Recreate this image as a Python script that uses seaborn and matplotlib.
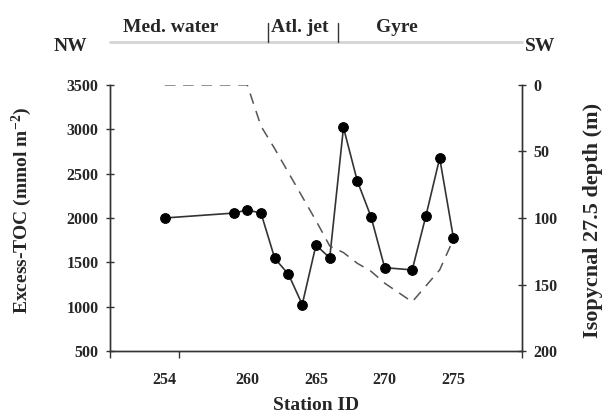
import numpy as np
import matplotlib
matplotlib.use("Agg")
import matplotlib.pyplot as plt
import seaborn as sns
from matplotlib.ticker import MultipleLocator
from matplotlib.transforms import blended_transform_factory

# data
stations = [254, 259, 260, 261, 262, 263, 264, 265, 266, 267, 268, 269, 270, 272, 273, 274, 275]
excess_toc = [2000, 2055, 2090, 2055, 1545, 1365, 1025, 1695, 1550, 3020, 2420, 2015, 1440, 1415, 2025, 2675, 1775]
isopycnal_depth = [0, 0, 0, 31, 48, 66, 84, 102, 121, 126, 134, 140, 149, 163, 151, 139, 116]

tick_labels = [254, 260, 265, 270, 275]
regions = ['Med. water', 'Atl. jet', 'Gyre']
region_centers = [254.4, 263.8, 270.9]
region_bounds = [261.5, 266.6]

sns.set_style('white')
plt.rcParams['font.family'] = ['Liberation Serif', 'DejaVu Serif']
plt.rcParams['font.weight'] = 'bold'
plt.rcParams['mathtext.fontset'] = 'custom'
plt.rcParams['mathtext.rm'] = 'Liberation Serif:bold'
plt.rcParams['mathtext.default'] = 'rm'

fig = plt.figure(figsize=(6.1, 4.16), dpi=100)
ax = fig.add_axes([0.180, 0.156, 0.676, 0.640])
ax2 = ax.twinx()

sns.lineplot(x=stations, y=excess_toc, ax=ax, color='#333333', lw=1.2,
             marker='o', markersize=7, markerfacecolor='black', markeredgecolor='black')
sns.lineplot(x=stations, y=isopycnal_depth, ax=ax2, color='#555555', lw=1.1,
             linestyle=(0, (7, 5)))

ax.set_xlim(250, 280)
ax.set_ylim(500, 3500)
ax.set_yticks(np.arange(500, 3501, 500))
ax.set_xticks(tick_labels)
ax.set_xticklabels([str(t) for t in tick_labels])
ax.xaxis.set_minor_locator(MultipleLocator(5))
ax.tick_params(axis='x', which='major', length=0, pad=15, labelsize=11.5)
ax.tick_params(axis='x', which='minor', length=5, width=1, direction='out', bottom=True, color='#333333')
ax.tick_params(axis='y', length=6, width=1, direction='inout', left=True, labelsize=11.5, color='#333333', pad=5)

ax2.set_ylim(200, 0)
ax2.set_yticks(np.arange(0, 201, 50))
ax2.tick_params(axis='y', length=6, width=1, direction='inout', right=True, labelsize=11.5, color='#333333', pad=5)

for a in (ax, ax2):
    a.spines['top'].set_visible(False)
    for side in ['left', 'right', 'bottom']:
        a.spines[side].set_color('#333333')
        a.spines[side].set_linewidth(1)

ax.set_xlabel('Station ID', fontsize=14, fontweight='bold', va='center')
ax.xaxis.set_label_coords(0.5, -0.205)
ax.set_ylabel('Excess-TOC (mmol m$^{-2}$)', fontsize=14, fontweight='bold', va='center')
ax.yaxis.set_label_coords(-0.213, 0.53)
ax2.set_ylabel('Isopycnal 27.5 depth (m)', fontsize=16, fontweight='bold', va='center')
ax2.yaxis.set_label_coords(1.172, 0.49)

# water-mass band above the plot
tr = blended_transform_factory(ax.transData, fig.transFigure)
ax.plot([250, 280], [0.899, 0.899], transform=tr, color='#d5d5d5', lw=2, clip_on=False)
for b in region_bounds:
    ax.plot([b, b], [0.899, 0.945], transform=tr, color='#333333', lw=1, clip_on=False)
for name, c in zip(regions, region_centers):
    ax.text(c, 0.935, name, transform=tr, ha='center', va='center', fontsize=14, fontweight='bold')
fig.text(0.115, 0.889, 'NW', ha='center', va='center', fontsize=14, fontweight='bold')
fig.text(0.885, 0.889, 'SW', ha='center', va='center', fontsize=14, fontweight='bold')

fig.savefig('out.png', dpi=100)
